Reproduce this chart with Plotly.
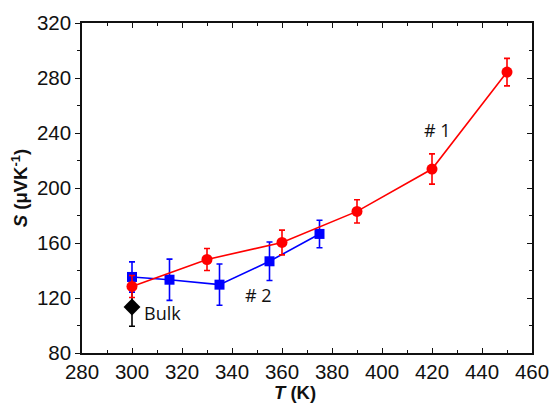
import plotly.graph_objects as go

# Sample #1 (red circles)
t1 = [300, 330, 360, 390, 420, 450]
s1 = [128.4, 148, 160.4, 183, 213.8, 284.3]
e1 = [8, 8, 9, 8.5, 11, 10]

# Sample #2 (blue squares)
t2 = [300, 315, 335, 355, 375]
s2 = [135.3, 133.3, 129.7, 146.7, 166.6]
e2 = [11, 15, 15, 14, 10]

# Bulk (black diamond)
tb = [300]
sb = [113.5]
eb = [14]

labels = ["# 1", "# 2", "Bulk"]
label_x = [422, 350.5, 304]
label_y = [242.5, 122.5, 109]

fig = go.Figure()
fig.add_trace(go.Scatter(
    x=t2, y=s2, mode="lines+markers",
    line=dict(color="#0000FF", width=1.6),
    marker=dict(symbol="square", size=10, color="#0000FF"),
    error_y=dict(type="data", array=e2, color="#0000FF", thickness=1.6, width=3),
    showlegend=False))
fig.add_trace(go.Scatter(
    x=tb, y=sb, mode="markers",
    marker=dict(symbol="diamond", size=13, color="black"),
    error_y=dict(type="data", array=eb, color="black", thickness=1.6, width=3),
    showlegend=False))
fig.add_trace(go.Scatter(
    x=t1, y=s1, mode="lines+markers",
    line=dict(color="#FF0000", width=1.6),
    marker=dict(symbol="circle", size=11, color="#FF0000"),
    error_y=dict(type="data", array=e1, color="#FF0000", thickness=1.6, width=3),
    showlegend=False))
# invisible trace on the mirrored right axis
fig.add_trace(go.Scatter(x=[t1[0]], y=[s1[0]], yaxis="y2", mode="markers",
                         marker=dict(opacity=0), hoverinfo="skip", showlegend=False))

anchors = ["center", "center", "left"]
for txt, x, y, a in zip(labels, label_x, label_y, anchors):
    fig.add_annotation(x=x, y=y, text=txt, showarrow=False, xanchor=a,
                       font=dict(family="Open Sans, Lato, sans-serif", size=18, color="#111111"))

tickfont = dict(family="Liberation Sans, Arial, sans-serif", size=20.5, color="#111111")
titlefont = dict(family="Liberation Sans, Arial, sans-serif", size=18.5, color="#111111")

# x-axis title (placed slightly left of centre, as in the reference)
fig.add_annotation(xref="paper", yref="paper", x=0.474, y=-0.12, text="<b><i>T</i> (K)</b>",
                   showarrow=False, xanchor="center", yanchor="middle", font=titlefont)

fig.update_layout(
    width=550, height=405,
    margin=dict(l=82, r=17.5, t=23, b=51.7),
    plot_bgcolor="white", paper_bgcolor="white",
    xaxis=dict(range=[280, 460], dtick=20, tick0=280, ticks="inside", ticklen=5,
               tickwidth=1.3, tickcolor="#111111", showline=True, linecolor="#111111",
               linewidth=1.5, mirror="ticks", showgrid=False, zeroline=False,
               tickfont=tickfont, automargin=False,
               minor=dict(dtick=10, ticks="inside", ticklen=3, tickcolor="#111111", tickwidth=1.3)),
    yaxis=dict(range=[80, 320], dtick=40, tick0=80, ticks="outside", ticklen=5,
               tickwidth=1.3, tickcolor="#111111", showline=True, linecolor="#111111",
               linewidth=1.5, mirror=True, showgrid=False, zeroline=False,
               tickfont=tickfont, automargin=False,
               minor=dict(dtick=20, ticks="outside", ticklen=3, tickcolor="#111111", tickwidth=1.3),
               title=dict(text="<b><i>S</i> (μVK<sup>-1</sup>)</b>", standoff=4, font=titlefont)),
    yaxis2=dict(range=[80, 320], dtick=40, tick0=80, overlaying="y", side="right",
                ticks="inside", ticklen=5, tickwidth=1.3, tickcolor="#111111",
                showticklabels=False, showline=False, showgrid=False, zeroline=False,
                automargin=False,
                minor=dict(dtick=20, ticks="inside", ticklen=3, tickcolor="#111111", tickwidth=1.3)),
)

fig.write_html("out.html", config={"displayModeBar": False},
               post_script="document.body.style.margin='0px';document.body.style.overflow='hidden';")
